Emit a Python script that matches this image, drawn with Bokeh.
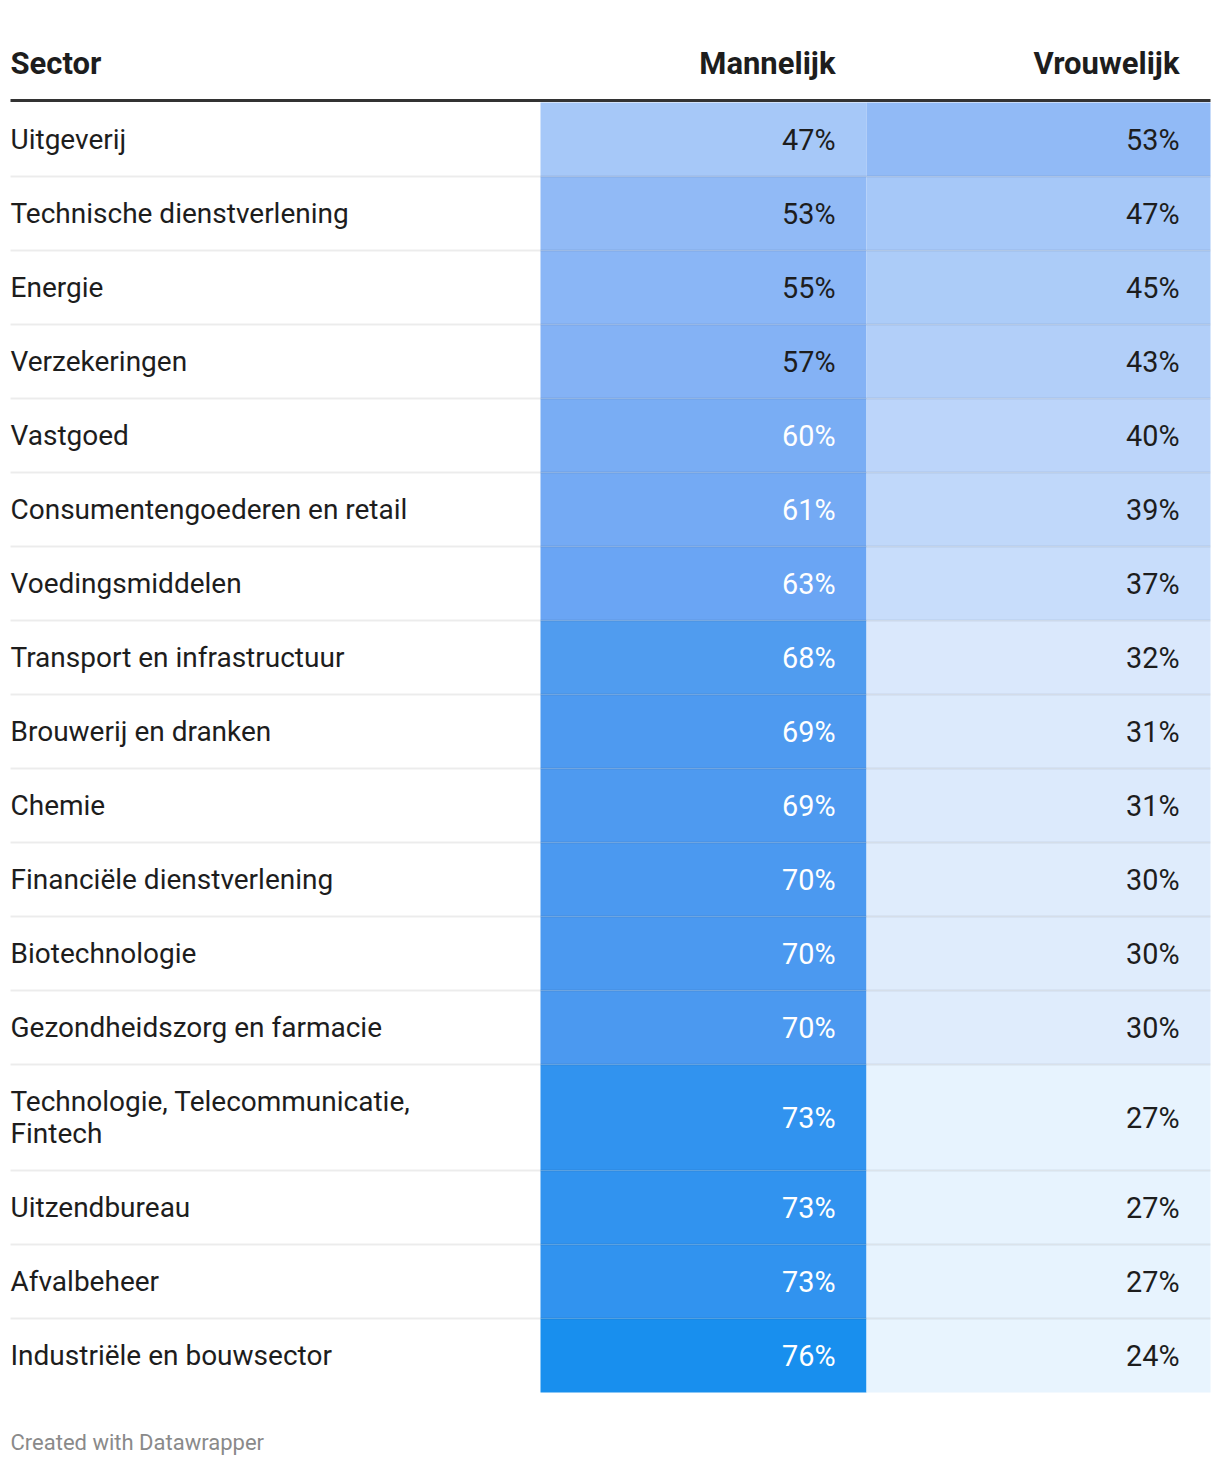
import textwrap
from bokeh.plotting import figure
from bokeh.models import Range1d, ColumnDataSource
from bokeh.core.properties import value
from bokeh.embed import file_html
from bokeh.resources import INLINE

# ---------------- data ----------------
sectors = [
    "Uitgeverij",
    "Technische dienstverlening",
    "Energie",
    "Verzekeringen",
    "Vastgoed",
    "Consumentengoederen en retail",
    "Voedingsmiddelen",
    "Transport en infrastructuur",
    "Brouwerij en dranken",
    "Chemie",
    "Financiële dienstverlening",
    "Biotechnologie",
    "Gezondheidszorg en farmacie",
    "Technologie, Telecommunicatie, Fintech",
    "Uitzendbureau",
    "Afvalbeheer",
    "Industriële en bouwsector",
]
mannelijk = [47, 53, 55, 57, 60, 61, 63, 68, 69, 69, 70, 70, 70, 73, 73, 73, 76]
vrouwelijk = [53, 47, 45, 43, 40, 39, 37, 32, 31, 31, 30, 30, 30, 27, 27, 27, 24]
headers = ["Sector", "Mannelijk", "Vrouwelijk"]
footer = "Created with Datawrapper"

# ---------------- style ----------------
COLOR_STOPS = [(24, "#e8f4fe"), (27, "#e7f3fe"), (30, "#dfecfc"), (32, "#dae8fc"),
               (37, "#c8ddfb"), (40, "#bcd5fa"), (43, "#b2cff9"), (47, "#a6c8f8"),
               (53, "#91baf6"), (57, "#84b2f5"), (60, "#79adf4"), (63, "#6aa5f4"),
               (68, "#509cef"), (70, "#4b99f0"), (73, "#3193ef"), (76, "#188fee")]


def hex2rgb(h):
    h = h.lstrip("#")
    return tuple(int(h[i:i + 2], 16) for i in (0, 2, 4))


def color_for(v):
    if v <= COLOR_STOPS[0][0]:
        return COLOR_STOPS[0][1]
    for (v0, c0), (v1, c1) in zip(COLOR_STOPS[:-1], COLOR_STOPS[1:]):
        if v0 <= v <= v1:
            t = (v - v0) / (v1 - v0)
            a, b = hex2rgb(c0), hex2rgb(c1)
            r = [round(a[k] + (b[k] - a[k]) * t) for k in range(3)]
            return "#%02x%02x%02x" % tuple(r)
    return COLOR_STOPS[-1][1]


def lum(h):
    def lin(c):
        c = c / 255
        return c / 12.92 if c <= 0.03928 else ((c + 0.055) / 1.055) ** 2.4
    r, g, b = hex2rgb(h)
    return 0.2126 * lin(r) + 0.7152 * lin(g) + 0.0722 * lin(b)


def text_color_for(h):
    return "#ffffff" if lum(h) < 0.42 else "#1d1d1d"


FONT = value("Roboto")
TXT = "#1d1d1d"
BODY = "28px"
VALS = "28.8px"
HEAD = "31px"
LEFT_X = 10
RIGHT_X = 1210
COL_M = (540, 866)
COL_V = (866, 1210)
PAD = 31
TOP = 102
ROW_H = 74
LINE_H = 32

# ---------------- layout ----------------
labels = [textwrap.fill(s, 31) for s in sectors]
tops, bottoms, mids = [], [], []
y = TOP
for lab in labels:
    h = ROW_H + LINE_H * (lab.count("\n"))
    tops.append(y)
    bottoms.append(y + h)
    mids.append(y + h / 2)
    y += h

m_colors = [color_for(v) for v in mannelijk]
v_colors = [color_for(v) for v in vrouwelijk]

W, H = 1212, 1458
p = figure(width=W, height=H, x_range=Range1d(0, W), y_range=Range1d(H, 0),
           output_backend="svg", toolbar_location=None, min_border=0)
p.axis.visible = False
p.grid.visible = False
p.outline_line_color = None
p.background_fill_color = "white"
p.border_fill_color = "white"

n = len(sectors)
cells = ColumnDataSource(dict(
    left=[COL_M[0]] * n + [COL_V[0]] * n,
    right=[COL_M[1]] * n + [COL_V[1]] * n,
    top=tops + tops,
    bottom=bottoms + bottoms,
    color=m_colors + v_colors,
))
p.quad(left="left", right="right", top="top", bottom="bottom", fill_color="color",
       line_color=None, source=cells)

# row separators
sep_y = bottoms[:-1]
p.segment(x0=[LEFT_X] * len(sep_y), x1=[RIGHT_X] * len(sep_y), y0=sep_y, y1=sep_y,
          line_color="black", line_alpha=0.075, line_width=2)

# header line
p.segment(x0=[LEFT_X], x1=[RIGHT_X], y0=[TOP - 2], y1=[TOP - 2], line_color="#333333", line_width=3)

# headers
p.text(x=[LEFT_X], y=[63], text=[headers[0]], text_font=FONT, text_font_style="bold",
       text_font_size=HEAD, text_color=TXT, text_align="left", text_baseline="middle")
p.text(x=[COL_M[1] - PAD, COL_V[1] - PAD], y=[63, 63], text=headers[1:], text_font=FONT,
       text_font_style="bold", text_font_size=HEAD, text_color=TXT, text_align="right",
       text_baseline="middle")

# row labels
p.text(x=[LEFT_X] * n, y=mids, text=labels, text_font=FONT, text_font_size=BODY,
       text_color=TXT, text_align="left", text_baseline="middle", text_line_height=0.98)

# values
vals = ColumnDataSource(dict(
    x=[COL_M[1] - PAD] * n + [COL_V[1] - PAD] * n,
    y=mids + mids,
    t=[f"{v}%" for v in mannelijk] + [f"{v}%" for v in vrouwelijk],
    c=[text_color_for(c) for c in m_colors] + [text_color_for(c) for c in v_colors],
))
p.text(x="x", y="y", text="t", text_color="c", source=vals, text_font=FONT,
       text_font_size=VALS, text_align="right", text_baseline="middle")

# footer
p.text(x=[LEFT_X], y=[1442], text=[footer], text_font=FONT, text_font_size="22px",
       text_color="#8a8a8a", text_align="left", text_baseline="middle")

open("out.html", "w").write(file_html(p, INLINE))
